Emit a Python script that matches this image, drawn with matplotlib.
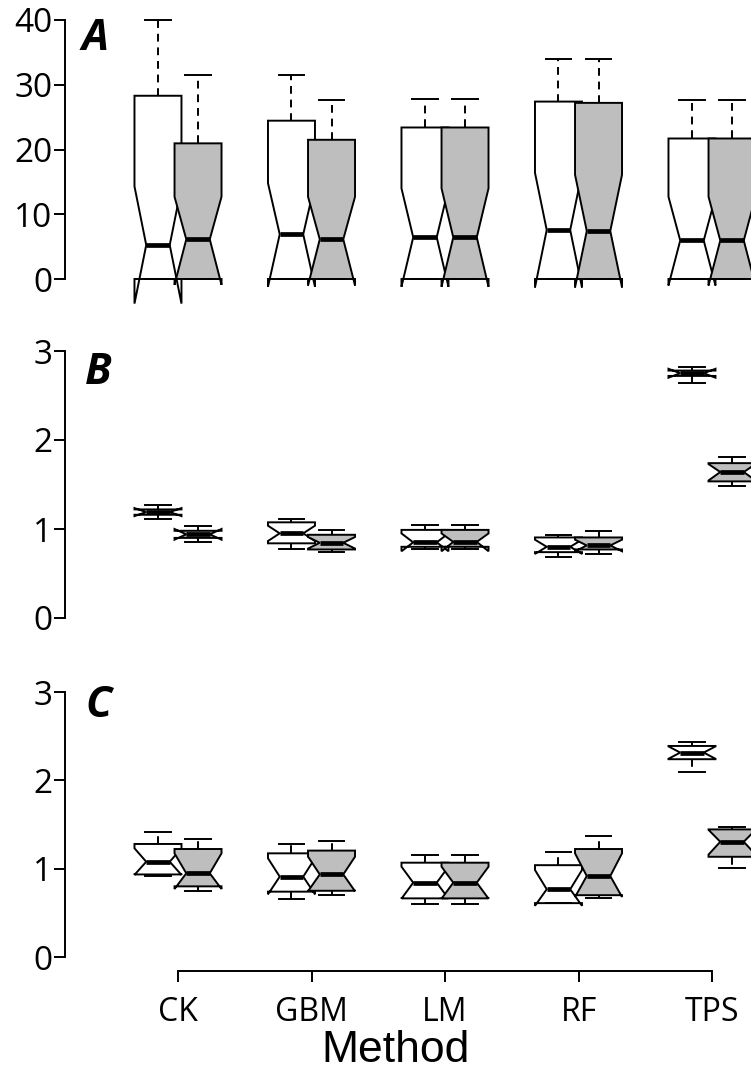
import matplotlib
matplotlib.use('Agg')
import matplotlib.pyplot as plt

plt.rcParams['font.family'] = ['Open Sans', 'DejaVu Sans']

methods = ['CK', 'GBM', 'LM', 'RF', 'TPS']

# ---------- Panel A ----------
A_white_whislo = [0, 0, 0, 0, 0]
A_white_q1 = [0, 0, 0, 0, 0]
A_white_cilo = [-3.8, -1.2, -1.2, -1.3, -1.0]
A_white_med = [5.25, 6.9, 6.44, 7.57, 5.95]
A_white_cihi = [14.3, 14.8, 14.0, 16.4, 12.7]
A_white_q3 = [28.3, 24.45, 23.4, 27.4, 21.7]
A_white_whishi = [40.0, 31.5, 27.8, 34.0, 27.6]

A_gray_whislo = [0, 0, 0, 0, 0]
A_gray_q1 = [0, 0, 0, 0, 0]
A_gray_cilo = [-0.9, -1.0, -1.2, -1.3, -1.0]
A_gray_med = [6.13, 6.13, 6.44, 7.41, 5.95]
A_gray_cihi = [12.7, 12.7, 14.0, 16.1, 12.7]
A_gray_q3 = [20.95, 21.5, 23.4, 27.2, 21.7]
A_gray_whishi = [31.5, 27.6, 27.8, 34.0, 27.6]

# ---------- Panel B ----------
B_white_whislo = [1.11, 0.772, 0.78, 0.682, 2.637]
B_white_q1 = [1.16, 0.839, 0.80, 0.74, 2.72]
B_white_cilo = [1.145, 0.865, 0.75, 0.72, 2.70]
B_white_med = [1.19, 0.951, 0.85, 0.80, 2.75]
B_white_cihi = [1.235, 1.037, 0.95, 0.88, 2.80]
B_white_q3 = [1.22, 1.075, 0.99, 0.905, 2.78]
B_white_whishi = [1.27, 1.109, 1.045, 0.933, 2.824]

B_gray_whislo = [0.851, 0.738, 0.78, 0.715, 1.487]
B_gray_q1 = [0.90, 0.77, 0.80, 0.77, 1.535]
B_gray_cilo = [0.88, 0.78, 0.75, 0.75, 1.545]
B_gray_med = [0.94, 0.845, 0.855, 0.815, 1.64]
B_gray_cihi = [1.00, 0.91, 0.95, 0.88, 1.73]
B_gray_q3 = [0.98, 0.935, 0.99, 0.905, 1.74]
B_gray_whishi = [1.037, 0.989, 1.045, 0.981, 1.806]

# ---------- Panel C ----------
C_white_whislo = [0.92, 0.657, 0.597, 0.61, 2.098]
C_white_q1 = [0.935, 0.74, 0.664, 0.61, 2.24]
C_white_cilo = [0.93, 0.71, 0.661, 0.58, 2.245]
C_white_med = [1.079, 0.91, 0.842, 0.767, 2.315]
C_white_cihi = [1.231, 1.118, 1.023, 0.985, 2.385]
C_white_q3 = [1.28, 1.174, 1.068, 1.04, 2.39]
C_white_whishi = [1.412, 1.28, 1.155, 1.193, 2.431]

C_gray_whislo = [0.751, 0.702, 0.597, 0.672, 1.004]
C_gray_q1 = [0.80, 0.75, 0.664, 0.70, 1.135]
C_gray_cilo = [0.77, 0.745, 0.661, 0.68, 1.16]
C_gray_med = [0.948, 0.935, 0.842, 0.917, 1.305]
C_gray_cihi = [1.174, 1.136, 1.023, 1.174, 1.44]
C_gray_q3 = [1.223, 1.205, 1.068, 1.223, 1.445]
C_gray_whishi = [1.336, 1.317, 1.155, 1.370, 1.476]

panel_letters = ['A', 'B', 'C']
yticks_A = [0, 10, 20, 30, 40]
yticks_BC = [0, 1, 2, 3]


def make_stats(whislo, q1, cilo, med, cihi, q3, whishi):
    out = []
    for i in range(len(med)):
        out.append(dict(whislo=whislo[i], q1=q1[i], cilo=cilo[i], med=med[i],
                        cihi=cihi[i], q3=q3[i], whishi=whishi[i], fliers=[]))
    return out


W, H = 751, 1086
fig = plt.figure(figsize=(W / 100, H / 100), dpi=100)


def px_axes(top, bottom):
    left = 65
    return fig.add_axes([left / W, 1 - bottom / H, (W - left) / W, (bottom - top) / H])


# axes pixel extents and y limits (computed from tick pixel positions)
axA = px_axes(5, 310)
axA.set_ylim((279 - 310) / 6.475, (279 - 5) / 6.475)
axB = px_axes(335, 640)
axB.set_ylim((618 - 640) / 89.0, (618 - 335) / 89.0)
axC = px_axes(675, 971)
axC.set_ylim((957 - 971) / 88.3, (957 - 675) / 88.3)

xpos = [1, 2, 3, 4, 5]
offset = 0.15
bw = 0.352
lw = 1.4

data = [
    (axA,
     make_stats(A_white_whislo, A_white_q1, A_white_cilo, A_white_med, A_white_cihi, A_white_q3, A_white_whishi),
     make_stats(A_gray_whislo, A_gray_q1, A_gray_cilo, A_gray_med, A_gray_cihi, A_gray_q3, A_gray_whishi),
     yticks_A),
    (axB,
     make_stats(B_white_whislo, B_white_q1, B_white_cilo, B_white_med, B_white_cihi, B_white_q3, B_white_whishi),
     make_stats(B_gray_whislo, B_gray_q1, B_gray_cilo, B_gray_med, B_gray_cihi, B_gray_q3, B_gray_whishi),
     yticks_BC),
    (axC,
     make_stats(C_white_whislo, C_white_q1, C_white_cilo, C_white_med, C_white_cihi, C_white_q3, C_white_whishi),
     make_stats(C_gray_whislo, C_gray_q1, C_gray_cilo, C_gray_med, C_gray_cihi, C_gray_q3, C_gray_whishi),
     yticks_BC),
]

for k, (ax, sw, sg, yt) in enumerate(data):
    for stats, col, off in [(sw, 'white', -offset), (sg, '#BEBEBE', offset)]:
        ax.bxp(stats, positions=[p + off for p in xpos], widths=bw,
               patch_artist=True, shownotches=True, showfliers=False,
               capwidths=0.19, manage_ticks=False,
               boxprops=dict(facecolor=col, edgecolor='black', linewidth=lw, joinstyle='miter'),
               whiskerprops=dict(color='black', linewidth=lw, linestyle=(0, (4, 3))),
               capprops=dict(color='black', linewidth=lw),
               medianprops=dict(color='black', linewidth=3.4, solid_capstyle='butt'))
    ax.set_xlim(1 - (178 - 65) / 133.5, 5 + (751 - 712) / 133.5)
    for s in ['top', 'right']:
        ax.spines[s].set_visible(False)
    ax.spines['left'].set_bounds(yt[0], yt[-1])
    ax.spines['left'].set_linewidth(1.4)
    ax.set_yticks(yt)
    ax.set_yticklabels([str(v) for v in yt])
    ax.tick_params(axis='y', direction='out', length=8, width=1.4, pad=1, labelsize=24)
    ax.patch.set_alpha(0)
    if k < 2:
        ax.spines['bottom'].set_visible(False)
        ax.set_xticks([])
    else:
        ax.spines['bottom'].set_bounds(1, 5)
        ax.spines['bottom'].set_linewidth(1.4)
        ax.set_xticks(xpos)
        ax.set_xticklabels(methods)
        ax.tick_params(axis='x', direction='out', length=8, width=1.4, pad=10, labelsize=23)

letter_pos = [(82, 50), (85, 384), (85, 717)]
for letter, (lx, ly) in zip(panel_letters, letter_pos):
    fig.text(lx / W, 1 - ly / H, letter, fontsize=31, fontweight='bold', fontstyle='italic',
             ha='left', va='baseline')

fig.text(396 / W, 1 - 1051 / H, 'Method', fontsize=32, family=['Liberation Sans', 'DejaVu Sans'],
         ha='center', va='center')

fig.savefig('out.png', dpi=100)
